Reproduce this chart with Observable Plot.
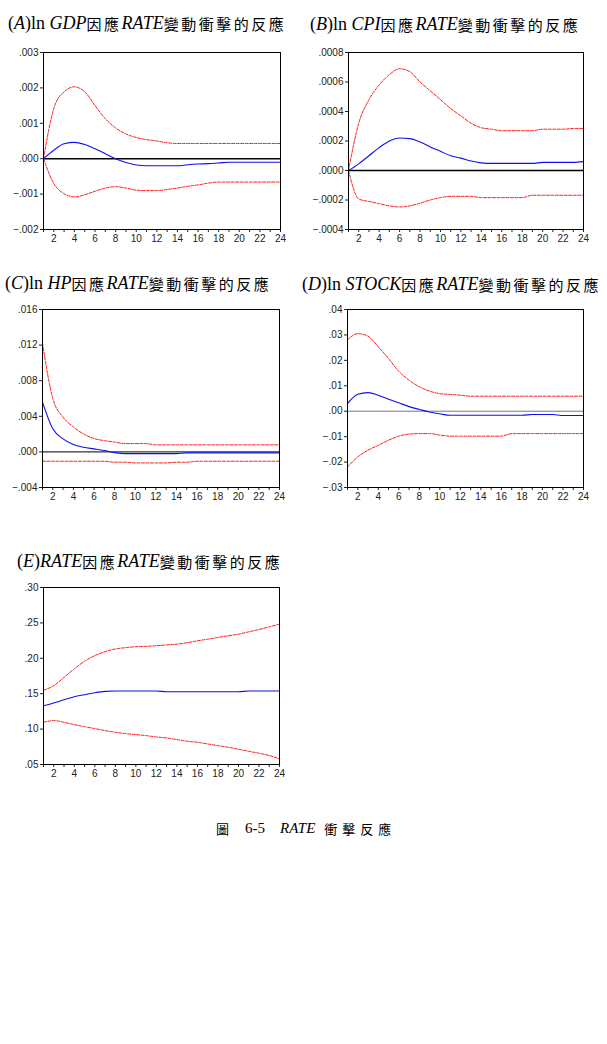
<!DOCTYPE html>
<html><head><meta charset="utf-8">
<script src="https://cdn.jsdelivr.net/npm/d3@7"></script>
<script src="https://cdn.jsdelivr.net/npm/@observablehq/plot@0.6"></script>
<style>
body{margin:0;background:#fff;}
#page{position:relative;width:607px;height:1044px;background:#fff;overflow:hidden;}
.ttl{position:absolute;white-space:nowrap;line-height:1;color:#000;display:flex;align-items:center;}
.ro{font-family:"Liberation Serif","DejaVu Serif",serif;font-size:18px;}
.it{font-family:"Liberation Serif","DejaVu Serif",serif;font-size:18px;font-style:italic;}
.cj{font-family:"Noto Sans CJK TC","Noto Sans CJK SC",sans-serif;font-size:15px;letter-spacing:2.5px;}
.panel{position:absolute;}
</style></head>
<body><div id="page"></div>
<script>
// periods
const periods = d3.range(1, 25);

// (A) ln GDP
const gdpResp  = [0, 0.00024, 0.00042, 0.00046, 0.0004, 0.00028, 0.00014, 0.0, -0.00011, -0.00018, -0.0002, -0.0002, -0.0002, -0.0002, -0.00017, -0.00015, -0.00014, -0.00012, -0.0001, -0.0001, -0.0001, -0.0001, -0.0001, -0.0001];
const gdpUpper = [0, 0.00142, 0.00189, 0.00203, 0.00189, 0.0015, 0.00113, 0.00087, 0.0007, 0.0006, 0.00054, 0.0005, 0.00045, 0.00043, 0.00043, 0.00043, 0.00043, 0.00043, 0.00043, 0.00043, 0.00043, 0.00043, 0.00043, 0.00043];
const gdpLower = [0, -0.0007, -0.00099, -0.00108, -0.00102, -0.00092, -0.00083, -0.00079, -0.00083, -0.00089, -0.0009, -0.0009, -0.00087, -0.00083, -0.00078, -0.00074, -0.00069, -0.00066, -0.00066, -0.00066, -0.00066, -0.00066, -0.00066, -0.00066];

// (B) ln CPI
const cpiResp  = [0, 0.000045, 0.0001, 0.000155, 0.0002, 0.00022, 0.000216, 0.000193, 0.00016, 0.00013, 0.0001, 0.000084, 0.000064, 0.000052, 0.000048, 0.000048, 0.000048, 0.000048, 0.000048, 0.000055, 0.000055, 0.000055, 0.000055, 0.00006];
const cpiUpper = [0, 0.00032, 0.00048, 0.00058, 0.00065, 0.00069, 0.00067, 0.0006, 0.00054, 0.00048, 0.00042, 0.00037, 0.00032, 0.00029, 0.00028, 0.00027, 0.00027, 0.00027, 0.00027, 0.00028, 0.00028, 0.00028, 0.000285, 0.000285];
const cpiLower = [0, -0.000193, -0.00021, -0.000225, -0.00024, -0.000247, -0.00024, -0.000222, -0.0002, -0.000184, -0.000175, -0.000175, -0.000175, -0.000184, -0.000184, -0.000184, -0.000184, -0.000184, -0.000168, -0.000168, -0.000168, -0.000168, -0.000168, -0.000168];

// (C) ln HP
const hpResp  = [0.0056, 0.0026, 0.00146, 0.00082, 0.00052, 0.00034, 0.00015, -0.00008, -0.00019, -0.00019, -0.00019, -0.00019, -0.00019, -0.00019, -0.00011, -0.00011, -0.00011, -0.00011, -0.00011, -0.00011, -0.00011, -0.00011, -0.00011, -0.00011];
const hpUpper = [0.0122, 0.006, 0.0039, 0.0028, 0.002, 0.0015, 0.00127, 0.0011, 0.00094, 0.00094, 0.00094, 0.00079, 0.00079, 0.00079, 0.00079, 0.00079, 0.00079, 0.00079, 0.00079, 0.00079, 0.00079, 0.00079, 0.00079, 0.00079];
const hpLower = [-0.00105, -0.00105, -0.00105, -0.00105, -0.00105, -0.00105, -0.00105, -0.00116, -0.00116, -0.00124, -0.00124, -0.00124, -0.00124, -0.00116, -0.00116, -0.00105, -0.00105, -0.00105, -0.00105, -0.00105, -0.00105, -0.00105, -0.00105, -0.00105];

// (D) ln STOCK
const stockResp  = [0.003, 0.0067, 0.0073, 0.0063, 0.0047, 0.0033, 0.0018, 0.0007, -0.0003, -0.001, -0.0016, -0.0016, -0.0016, -0.0016, -0.0016, -0.0016, -0.0016, -0.0016, -0.0013, -0.0013, -0.0013, -0.0017, -0.0017, -0.0017];
const stockUpper = [0.028, 0.0305, 0.0295, 0.0253, 0.0207, 0.0157, 0.0122, 0.0096, 0.0079, 0.0069, 0.0066, 0.0063, 0.0059, 0.0059, 0.0059, 0.0059, 0.0059, 0.0059, 0.0059, 0.0059, 0.0059, 0.0059, 0.0059, 0.0059];
const stockLower = [-0.0219, -0.018, -0.0153, -0.0134, -0.0114, -0.0098, -0.009, -0.0088, -0.0088, -0.0094, -0.0098, -0.0098, -0.0098, -0.0098, -0.0098, -0.0098, -0.0088, -0.0088, -0.0088, -0.0088, -0.0088, -0.0088, -0.0088, -0.0088];

// (E) RATE
const rateResp  = [0.133, 0.1368, 0.1415, 0.1458, 0.1486, 0.1514, 0.1533, 0.1538, 0.1538, 0.1538, 0.1538, 0.1538, 0.1528, 0.1528, 0.1528, 0.1528, 0.1528, 0.1528, 0.1528, 0.1528, 0.1538, 0.1538, 0.1538, 0.1538];
const rateUpper = [0.155, 0.1613, 0.173, 0.185, 0.1958, 0.2038, 0.2094, 0.2132, 0.215, 0.2164, 0.2169, 0.2178, 0.2188, 0.22, 0.222, 0.2247, 0.227, 0.2294, 0.2318, 0.2341, 0.2374, 0.2407, 0.2444, 0.2482];
const rateLower = [0.1096, 0.112, 0.1096, 0.1063, 0.1035, 0.1007, 0.0979, 0.0955, 0.0936, 0.0922, 0.0908, 0.0889, 0.0875, 0.0852, 0.0828, 0.0814, 0.079, 0.0767, 0.0743, 0.0715, 0.0687, 0.0659, 0.0627, 0.058];

// y tick values
const ticksA = [-0.002, -0.001, 0, 0.001, 0.002, 0.003];
const ticksB = [-0.0004, -0.0002, 0, 0.0002, 0.0004, 0.0006, 0.0008];
const ticksC = [-0.004, 0, 0.004, 0.008, 0.012, 0.016];
const ticksD = [-0.03, -0.02, -0.01, 0, 0.01, 0.02, 0.03, 0.04];
const ticksE = [0.05, 0.10, 0.15, 0.20, 0.25, 0.30];

const page = document.getElementById("page");

function fmt(dec) {
  const f = d3.format("." + dec + "f");
  return d => f(d).replace("0.", ".");
}

function panel(o) {
  const rows = (arr) => periods.map((p, i) => ({p, v: arr[i]}));
  const marks = [];
  if (o.zero) marks.push(Plot.ruleY([0], {stroke: o.zero.color, strokeWidth: o.zero.w}));
  marks.push(Plot.line(rows(o.upper), {x: "p", y: "v", stroke: "#ff1a1a", strokeWidth: 1, strokeDasharray: "3,1.5", curve: "monotone-x"}));
  marks.push(Plot.line(rows(o.lower), {x: "p", y: "v", stroke: "#ff1a1a", strokeWidth: 1, strokeDasharray: "3,1.5", curve: "monotone-x"}));
  marks.push(Plot.line(rows(o.resp), {x: "p", y: "v", stroke: "#1010ee", strokeWidth: 1.1, curve: "monotone-x"}));
  marks.push(Plot.frame({stroke: "#000", strokeWidth: 1}));
  const svg = Plot.plot({
    width: o.w, height: o.h,
    marginLeft: o.ml, marginRight: o.mr, marginTop: o.mt, marginBottom: o.mb,
    style: {fontFamily: "'Liberation Sans', Arial, sans-serif", fontSize: "10px", color: "#222", background: "transparent", overflow: "visible"},
    x: {domain: [1, 24], ticks: periods, tickFormat: d => d % 2 === 0 ? String(d) : "", tickSize: 3, tickPadding: 2, label: null},
    y: {domain: o.domain, ticks: o.ticks, tickFormat: fmt(o.dec), tickSize: 3, tickPadding: 2, label: null},
    marks
  });
  svg.classList.add("panel");
  svg.style.left = o.left + "px";
  svg.style.top = o.top + "px";
  page.appendChild(svg);
}

function title(pieces, left, cy) {
  const d = document.createElement("div");
  d.className = "ttl";
  d.style.left = left + "px";
  d.style.top = (cy - 11) + "px";
  d.style.height = "22px";
  for (const [t, c] of pieces) {
    const s = document.createElement("span");
    s.className = c;
    s.textContent = t;
    d.appendChild(s);
  }
  page.appendChild(d);
}

title([["(", "ro"], ["A", "it"], [")ln\u00a0", "ro"], ["GDP", "it"], ["因應", "cj"], ["RATE", "it"], ["變動衝擊的反應", "cj"]], 8, 23);
title([["(", "ro"], ["B", "it"], [")ln\u00a0", "ro"], ["CPI", "it"], ["因應", "cj"], ["RATE", "it"], ["變動衝擊的反應", "cj"]], 310, 24);
title([["(", "ro"], ["C", "it"], [")ln\u00a0", "ro"], ["HP", "it"], ["因應", "cj"], ["RATE", "it"], ["變動衝擊的反應", "cj"]], 5, 283);
title([["(", "ro"], ["D", "it"], [")ln\u00a0", "ro"], ["STOCK", "it"], ["因應", "cj"], ["RATE", "it"], ["變動衝擊的反應", "cj"]], 302, 284);
title([["(", "ro"], ["E", "it"], [")", "ro"], ["RATE", "it"], ["因應", "cj"], ["RATE", "it"], ["變動衝擊的反應", "cj"]], 17, 561);

panel({left: 0, top: 40, w: 300, h: 220, ml: 43, mr: 20, mt: 12, mb: 31, domain: [-0.002, 0.003], ticks: ticksA, dec: 3, resp: gdpResp, upper: gdpUpper, lower: gdpLower, zero: {color: "#000", w: 1.6}});
panel({left: 300, top: 40, w: 307, h: 220, ml: 48, mr: 24, mt: 12, mb: 31, domain: [-0.0004, 0.0008], ticks: ticksB, dec: 4, resp: cpiResp, upper: cpiUpper, lower: cpiLower, zero: {color: "#000", w: 1.6}});
panel({left: 0, top: 297, w: 300, h: 220, ml: 42, mr: 21, mt: 12, mb: 30, domain: [-0.004, 0.016], ticks: ticksC, dec: 3, resp: hpResp, upper: hpUpper, lower: hpLower, zero: {color: "#000", w: 1}});
panel({left: 300, top: 297, w: 307, h: 220, ml: 47, mr: 24, mt: 12, mb: 30, domain: [-0.03, 0.04], ticks: ticksD, dec: 2, resp: stockResp, upper: stockUpper, lower: stockLower, zero: {color: "#777", w: 1}});
panel({left: 0, top: 575, w: 300, h: 220, ml: 43, mr: 21, mt: 12, mb: 31, domain: [0.05, 0.30], ticks: ticksE, dec: 2, resp: rateResp, upper: rateUpper, lower: rateLower, zero: null});

// caption
const cap = document.createElement("div");
cap.className = "ttl";
cap.style.left = "216px";
cap.style.top = "817px";
cap.style.height = "22px";
cap.innerHTML = '<span class="cj" style="font-size:13px;letter-spacing:0">圖</span>' +
  '<span class="ro" style="font-size:15px;margin-left:16px">6-5</span>' +
  '<span class="it" style="font-size:15px;margin-left:15px">RATE</span>' +
  '<span class="cj" style="font-size:13px;letter-spacing:5px;margin-left:9px">衝擊反應</span>';
page.appendChild(cap);
</script>
</body></html>
